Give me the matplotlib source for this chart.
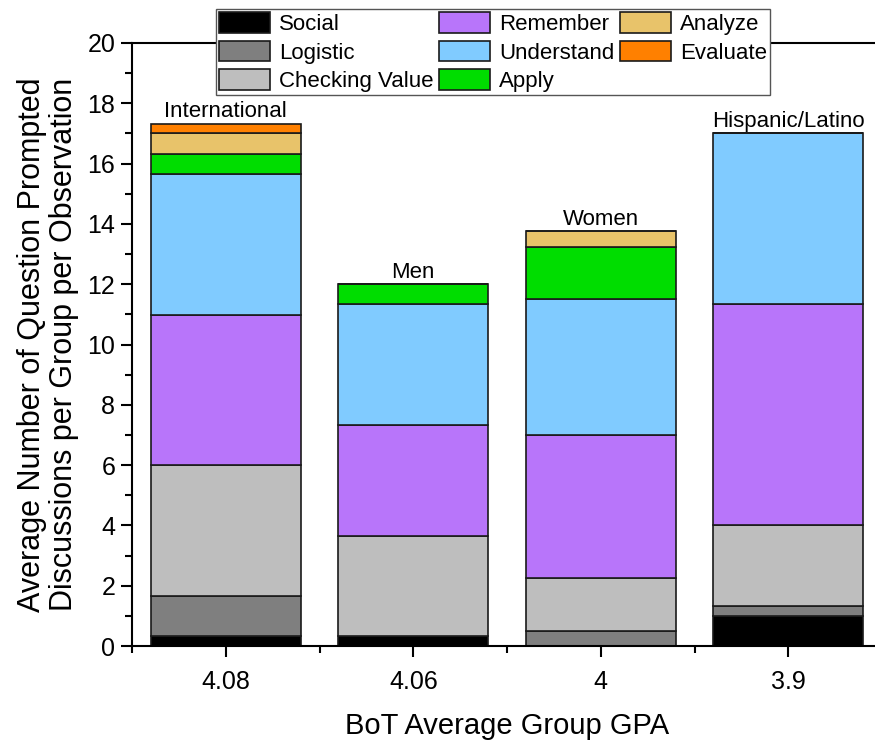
import matplotlib.pyplot as plt
import numpy as np
from matplotlib.ticker import MultipleLocator

plt.rcParams['font.family'] = ['Liberation Sans', 'DejaVu Sans']

# Data
gpa_labels = ['4.08', '4.06', '4', '3.9']
groups = ['International', 'Men', 'Women', 'Hispanic/Latino']
categories = ['Social', 'Logistic', 'Checking Value', 'Remember',
              'Understand', 'Apply', 'Analyze', 'Evaluate']

social = [0.33, 0.33, 0.0, 1.0]
logistic = [1.33, 0.0, 0.5, 0.33]
checking = [4.33, 3.33, 1.75, 2.67]
remember = [5.0, 3.67, 4.75, 7.33]
understand = [4.67, 4.0, 4.5, 5.67]
apply_ = [0.67, 0.67, 1.75, 0.0]
analyze = [0.67, 0.0, 0.5, 0.0]
evaluate = [0.33, 0.0, 0.0, 0.0]

series = [social, logistic, checking, remember, understand, apply_, analyze, evaluate]
colors = ['#000000', '#7f7f7f', '#bebebe', '#b875fa',
          '#80cbff', '#00dd00', '#e8c36a', '#ff8000']

fig = plt.figure(figsize=(8.75, 7.4), dpi=100)
# axes run slightly past the right edge, as in the original crop
ax = fig.add_axes([132 / 875, 94 / 740, 750 / 875, 603 / 740])

x = np.arange(len(groups))
bottom = np.zeros(len(groups))
for vals, col, name in zip(series, colors, categories):
    ax.bar(x, vals, width=0.8, bottom=bottom, color=col, edgecolor='#1a1a1a',
           linewidth=1.2, label=name)
    bottom += np.array(vals)

# group labels above each stack
for xi, top, g in zip(x, bottom, groups):
    ax.annotate(g, (xi, top), xytext=(0, 1), textcoords='offset points',
                ha='center', va='bottom', fontsize=16)

ax.set_xlim(-0.5, 3.5)
ax.set_ylim(0, 20)
ax.set_xticks(x)
ax.set_xticklabels(gpa_labels)
ax.xaxis.set_minor_locator(MultipleLocator(1, offset=0.5))
ax.yaxis.set_major_locator(MultipleLocator(2))
ax.yaxis.set_minor_locator(MultipleLocator(1))

for s in ax.spines.values():
    s.set_linewidth(1.5)
ax.tick_params(which='major', direction='out', length=8, width=1.5, labelsize=18)
ax.tick_params(which='minor', direction='out', length=5, width=1.5)
ax.tick_params(axis='x', pad=9)
ax.tick_params(axis='y', pad=4)

ax.set_xlabel('BoT Average Group GPA', fontsize=21, labelpad=13)
ax.set_ylabel('Average Number of Question Prompted\nDiscussions per Group per Observation',
              fontsize=22, labelpad=6, linespacing=1.1)

leg = fig.legend(loc='upper center', bbox_to_anchor=(493 / 875, 1 - 9 / 740),
                 ncol=3, fontsize=16, frameon=True, fancybox=False,
                 edgecolor='#555555', framealpha=1, handlelength=2.3,
                 handleheight=1.05, handletextpad=0.4, columnspacing=0.25,
                 labelspacing=0.25, borderpad=0.15, borderaxespad=0)
leg.get_frame().set_linewidth(1.0)

fig.savefig('out.png', dpi=100)
